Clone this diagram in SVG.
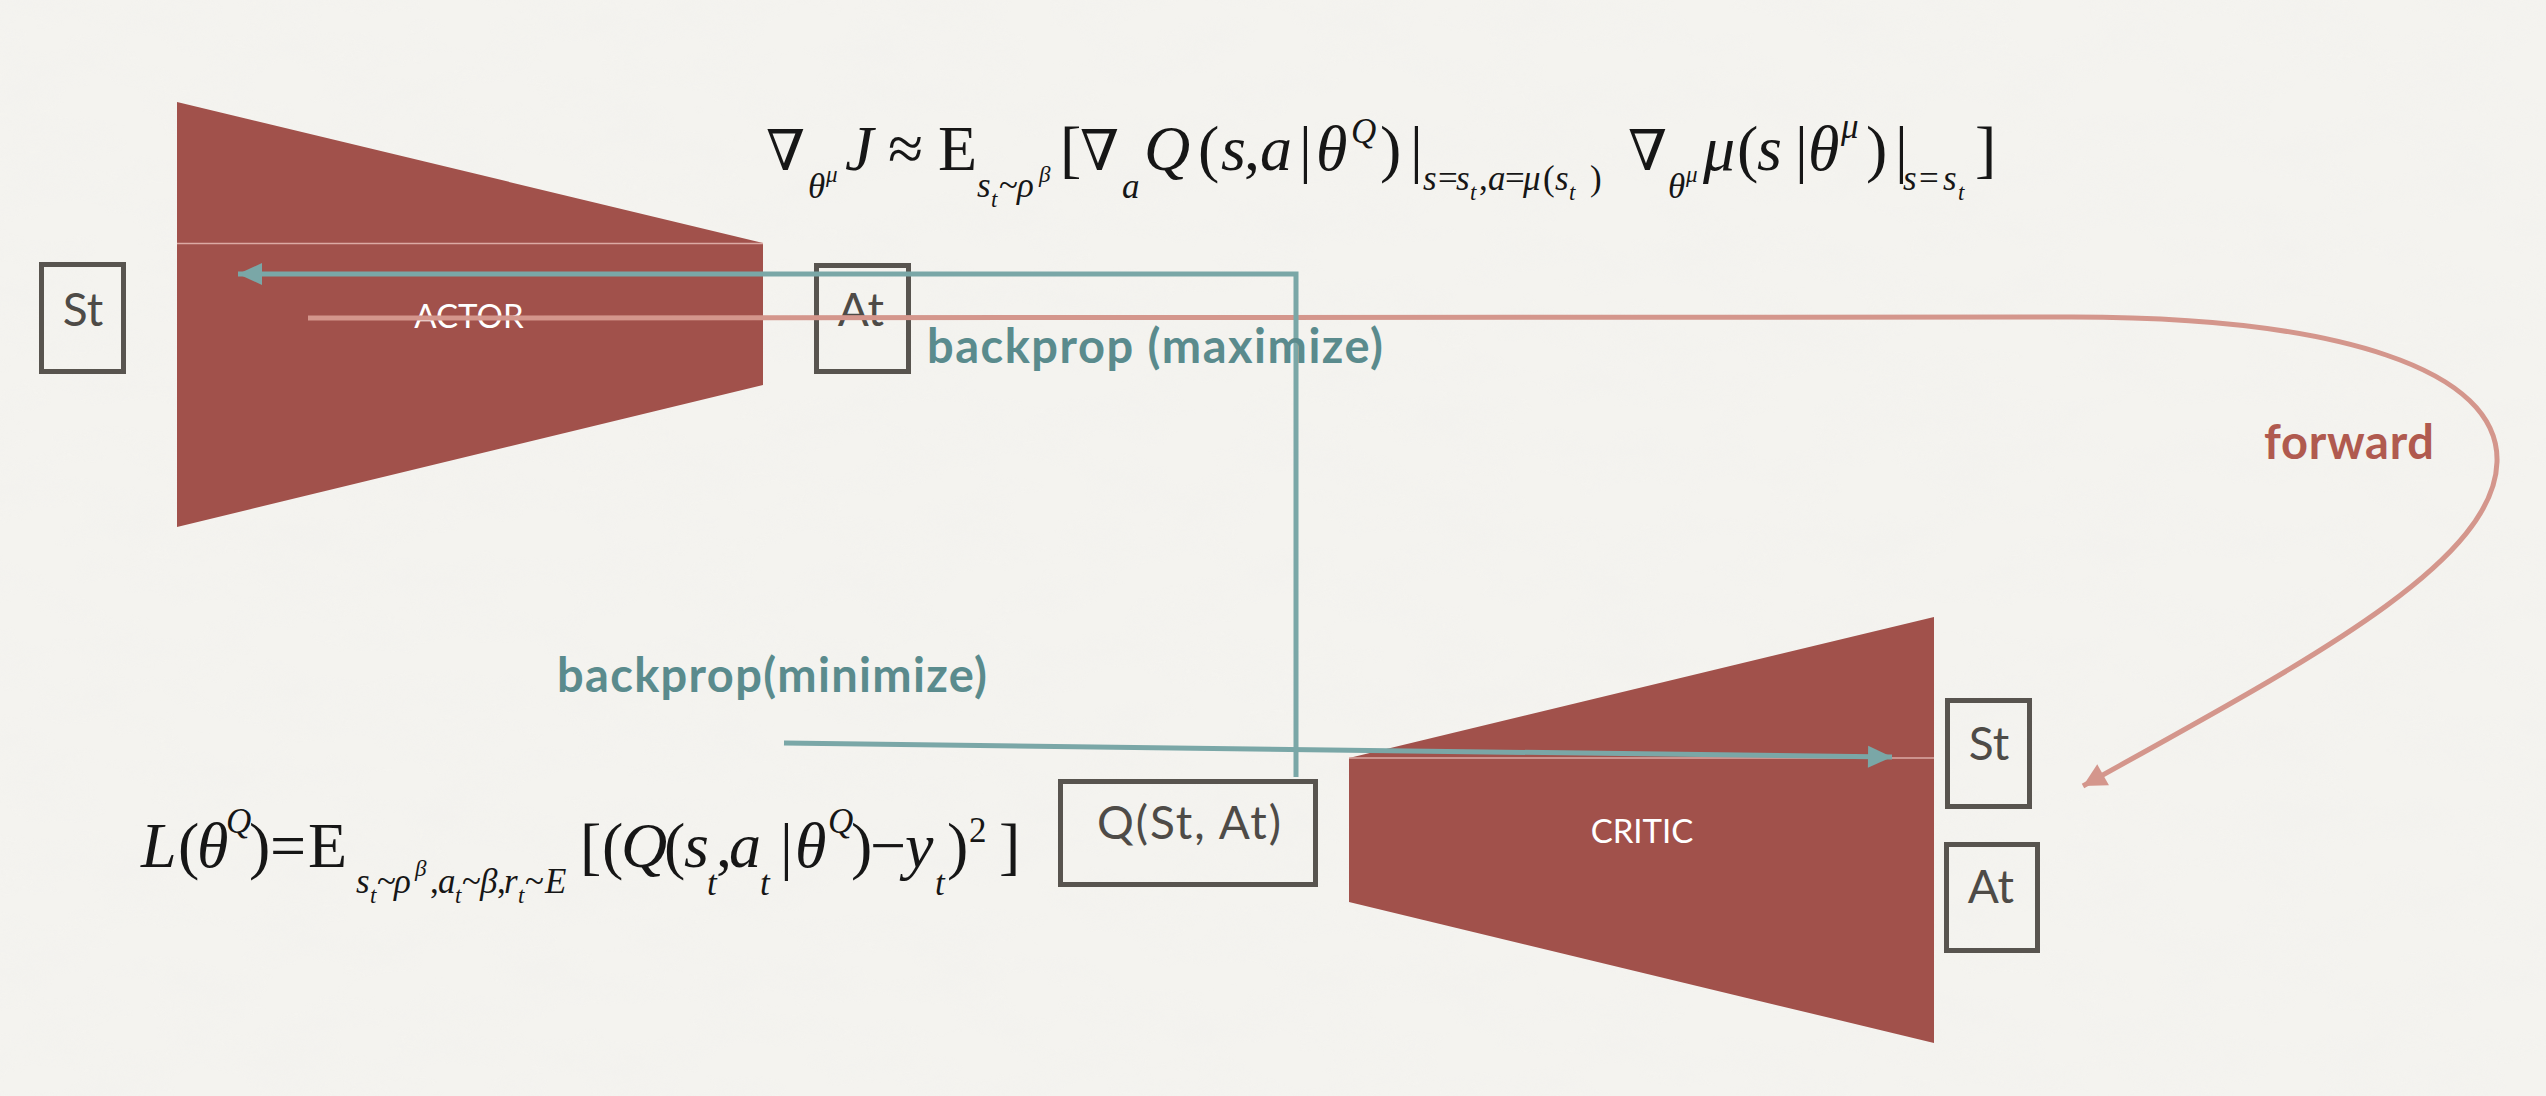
<svg xmlns="http://www.w3.org/2000/svg" width="2546" height="1096" viewBox="0 0 2546 1096">
<defs>
<style>
.bg{fill:#f4f3ef}
.shape{fill:#a1514b}
.split{stroke:#dcaaa4;stroke-width:1.5}
.box{fill:none;stroke:#58544f;stroke-width:5}
.lbl{font-family:Lato,"Noto Sans","Liberation Sans",sans-serif;fill:#4e4b47;font-size:46px;text-anchor:middle}
.net{font-family:Lato,"Noto Sans","Liberation Sans",sans-serif;fill:#ffffff;font-size:33px;text-anchor:middle}
.tealtxt{font-family:Lato,"Noto Sans","Liberation Sans",sans-serif;fill:#5a8b8d;font-size:47px;font-weight:700}
.redtxt{font-family:Lato,"Noto Sans","Liberation Sans",sans-serif;fill:#b05a4f;font-size:47px;font-weight:700}
.teal{fill:none;stroke:#7aa7a7;stroke-width:5}
.pink{fill:none;stroke:#d4968c;stroke-width:5}
.math{font-family:"Liberation Serif","DejaVu Serif",serif;fill:#161616}
.i{font-style:italic}
.s0{font-size:64px}
.nb{font-size:56px}
.s1{font-size:35px}
.s2{font-size:23px}
</style>
<filter id="paper" x="0" y="0" width="100%" height="100%">
<feTurbulence type="fractalNoise" baseFrequency="0.012 0.025" numOctaves="4" seed="7" result="n"/>
<feColorMatrix in="n" type="matrix" values="0 0 0 0 0.86  0 0 0 0 0.855  0 0 0 0 0.84  0.7 0 0 0 -0.3"/>
</filter>
<marker id="ah-teal" markerUnits="userSpaceOnUse" markerWidth="30" markerHeight="30" viewBox="0 0 30 30" refX="26" refY="15" orient="auto">
<path d="M2,4 L26,15 L2,26 z" fill="#7aa7a7"/>
</marker>
<marker id="ah-pink" markerUnits="userSpaceOnUse" markerWidth="30" markerHeight="30" viewBox="0 0 30 30" refX="26" refY="15" orient="auto">
<path d="M3,3 L26,15 L3,27 z" fill="#d4968c"/>
</marker>
</defs>

<rect class="bg" x="0" y="0" width="2546" height="1096"/>
<rect x="0" y="0" width="2546" height="1096" filter="url(#paper)" opacity="0.6"/>

<g id="actor">
<polygon class="shape" points="177,102 763,243 177,243"/>
<polygon class="shape" points="177,244 763,244 763,385 177,527"/>
<line class="split" x1="177" y1="243.5" x2="763" y2="243.5"/>
<text class="net" x="469" y="328">ACTOR</text>
</g>

<g id="critic">
<polygon class="shape" points="1349,758 1934,617 1934,1043 1349,902"/>
<line class="split" x1="1349" y1="758" x2="1934" y2="758"/>
<text class="net" x="1642" y="843">CRITIC</text>
</g>

<g id="actor-st">
<rect class="box" x="41.5" y="264.5" width="82" height="107"/>
<text class="lbl" x="83" y="326">St</text>
</g>

<g id="actor-at">
<rect class="box" x="816.5" y="265.5" width="92" height="106"/>
<text class="lbl" x="861" y="326">At</text>
</g>

<g id="q-value">
<rect class="box" x="1060.5" y="781.5" width="255" height="103"/>
<text class="lbl" x="1189" y="839" textLength="184">Q(St, At)</text>
</g>

<g id="critic-st">
<rect class="box" x="1947.5" y="700.5" width="82" height="106"/>
<text class="lbl" x="1989" y="760">St</text>
</g>

<g id="critic-at">
<rect class="box" x="1946.5" y="844.5" width="91" height="106"/>
<text class="lbl" x="1991" y="903">At</text>
</g>

<g id="actor-gradient" class="math">
<text>
<tspan class="nb" x="766" y="170">∇</tspan>
<tspan class="s1 i" x="808" y="198">θ</tspan>
<tspan class="s2 i" x="826" y="182">μ</tspan>
<tspan class="s0 i" x="845" y="170">J</tspan>
<tspan class="s0" x="888" y="170">≈</tspan>
<tspan class="s0" x="938" y="170">E</tspan>
<tspan class="s1 i" x="977" y="197">s</tspan>
<tspan class="s2 i" x="991" y="207">t</tspan>
<tspan class="s1" x="999" y="197">~</tspan>
<tspan class="s1 i" x="1017" y="197">ρ</tspan>
<tspan class="s2 i" x="1039" y="182">β</tspan>
<tspan class="s0" x="1060" y="170">[</tspan>
<tspan class="nb" x="1080" y="170">∇</tspan>
<tspan class="s1 i" x="1122" y="198">a</tspan>
<tspan class="s0 i" x="1144" y="170">Q</tspan>
<tspan class="s0" x="1198" y="170">(</tspan>
<tspan class="s0 i" x="1221" y="170">s</tspan>
<tspan class="s0" x="1244" y="170">,</tspan>
<tspan class="s0 i" x="1260" y="170">a</tspan>
<tspan class="s0" x="1299" y="170">|</tspan>
<tspan class="s0 i" x="1316" y="170">θ</tspan>
<tspan class="s1 i" x="1351" y="143">Q</tspan>
<tspan class="s0" x="1380" y="170">)</tspan>
<tspan class="s0" x="1410" y="170">|</tspan>
<tspan class="s1 i" x="1423" y="190">s</tspan>
<tspan class="s1" x="1438" y="190">=</tspan>
<tspan class="s1 i" x="1456" y="190">s</tspan>
<tspan class="s2 i" x="1470" y="200">t</tspan>
<tspan class="s1" x="1479" y="190">,</tspan>
<tspan class="s1 i" x="1488" y="190">a</tspan>
<tspan class="s1" x="1505" y="190">=</tspan>
<tspan class="s1 i" x="1523" y="190">μ</tspan>
<tspan class="s1" x="1543" y="190">(</tspan>
<tspan class="s1 i" x="1555" y="190">s</tspan>
<tspan class="s2 i" x="1569" y="200">t</tspan>
<tspan class="s1" x="1590" y="190">)</tspan>
<tspan class="nb" x="1628" y="170">∇</tspan>
<tspan class="s1 i" x="1668" y="198">θ</tspan>
<tspan class="s2 i" x="1686" y="182">μ</tspan>
<tspan class="s0 i" x="1703" y="170">μ</tspan>
<tspan class="s0" x="1737" y="170">(</tspan>
<tspan class="s0 i" x="1757" y="170">s</tspan>
<tspan class="s0" x="1795" y="170">|</tspan>
<tspan class="s0 i" x="1808" y="170">θ</tspan>
<tspan class="s1 i" x="1841" y="138">μ</tspan>
<tspan class="s0" x="1866" y="170">)</tspan>
<tspan class="s0" x="1895" y="170">|</tspan>
<tspan class="s1 i" x="1903" y="190">s</tspan>
<tspan class="s1" x="1919" y="190">=</tspan>
<tspan class="s1 i" x="1943" y="190">s</tspan>
<tspan class="s2 i" x="1958" y="200">t</tspan>
<tspan class="s0" x="1975" y="170">]</tspan>
</text>
</g>

<g id="critic-loss" class="math">
<text>
<tspan class="s0 i" x="141" y="867">L</tspan>
<tspan class="s0" x="178" y="867">(</tspan>
<tspan class="s0 i" x="197" y="867">θ</tspan>
<tspan class="s1 i" x="226" y="833">Q</tspan>
<tspan class="s0" x="249" y="867">)</tspan>
<tspan class="s0" x="270" y="867">=</tspan>
<tspan class="s0" x="308" y="867">E</tspan>
<tspan class="s1 i" x="356" y="893">s</tspan>
<tspan class="s2 i" x="370" y="903">t</tspan>
<tspan class="s1" x="377" y="893">~</tspan>
<tspan class="s1 i" x="394" y="893">ρ</tspan>
<tspan class="s2 i" x="415" y="876">β</tspan>
<tspan class="s1" x="430" y="893">,</tspan>
<tspan class="s1 i" x="438" y="893">a</tspan>
<tspan class="s2 i" x="455" y="903">t</tspan>
<tspan class="s1" x="462" y="893">~</tspan>
<tspan class="s1 i" x="480" y="893">β</tspan>
<tspan class="s1" x="497" y="893">,</tspan>
<tspan class="s1 i" x="504" y="893">r</tspan>
<tspan class="s2 i" x="518" y="903">t</tspan>
<tspan class="s1" x="525" y="893">~</tspan>
<tspan class="s1 i" x="545" y="893">E</tspan>
<tspan class="s0" x="580" y="867">[</tspan>
<tspan class="s0" x="602" y="867">(</tspan>
<tspan class="s0 i" x="621" y="867">Q</tspan>
<tspan class="s0" x="664" y="867">(</tspan>
<tspan class="s0 i" x="684" y="867">s</tspan>
<tspan class="s1 i" x="707" y="895">t</tspan>
<tspan class="s0" x="716" y="867">,</tspan>
<tspan class="s0 i" x="729" y="867">a</tspan>
<tspan class="s1 i" x="760" y="895">t</tspan>
<tspan class="s0" x="780" y="867">|</tspan>
<tspan class="s0 i" x="795" y="867">θ</tspan>
<tspan class="s1 i" x="828" y="833">Q</tspan>
<tspan class="s0" x="851" y="867">)</tspan>
<tspan class="s0" x="870" y="867">−</tspan>
<tspan class="s0 i" x="905" y="867">y</tspan>
<tspan class="s1 i" x="935" y="895">t</tspan>
<tspan class="s0" x="947" y="867">)</tspan>
<tspan class="s1" x="969" y="842">2</tspan>
<tspan class="s0" x="999" y="867">]</tspan>
</text>
</g>

<g id="connectors">
<path id="forward" class="pink" d="M308,318 L2072,317 C2340,317 2500,370 2497,462 C2494,565 2300,665 2083,786" marker-end="url(#ah-pink)"/>
<polyline id="backprop-maximize" class="teal" points="1296,777 1296,274 238,274" marker-end="url(#ah-teal)"/>
<line id="backprop-minimize" class="teal" x1="784" y1="743" x2="1892" y2="757" marker-end="url(#ah-teal)"/>
<text class="tealtxt" x="927" y="363" textLength="456">backprop (maximize)</text>
<text class="tealtxt" x="557" y="692" textLength="430">backprop(minimize)</text>
<text class="redtxt" x="2264" y="459" textLength="170">forward</text>
</g>
</svg>
